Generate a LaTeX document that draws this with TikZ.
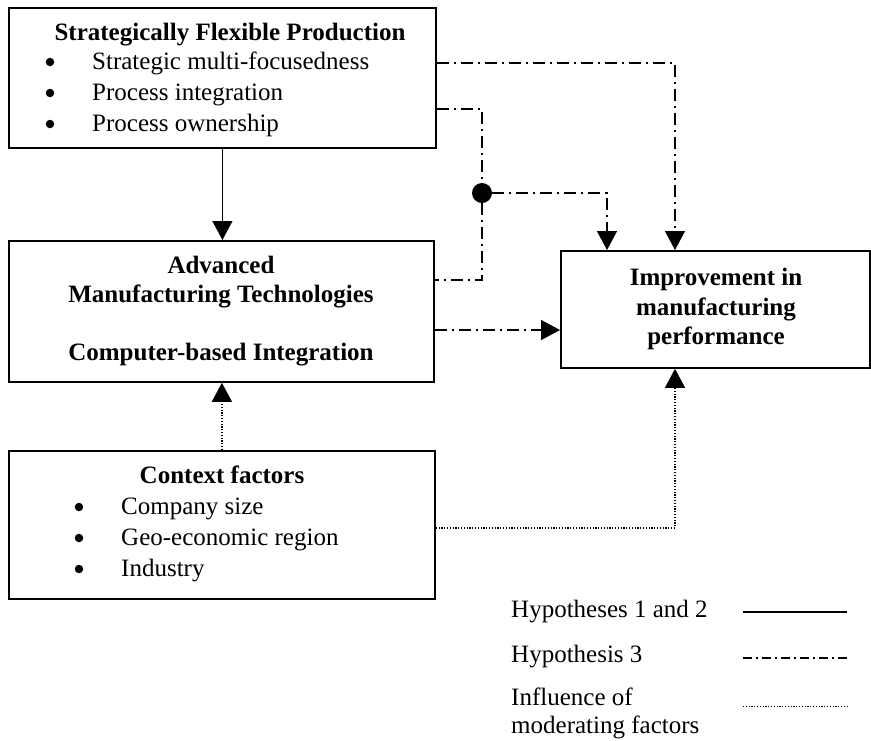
\documentclass[tikz,border=0pt]{standalone}
\usepackage{fontspec}
\setmainfont{Liberation Serif}
\usetikzlibrary{arrows.meta,calc}

\tikzset{
  box/.style={draw, line width=1.8pt, inner sep=0pt, anchor=north west},
  txt/.style={inner sep=0pt, font=\fontsize{25}{31}\selectfont},
  ttl/.style={txt, font=\fontsize{25}{31}\selectfont\bfseries, anchor=base},
  itm/.style={txt, anchor=base west},
  bul/.style={circle, fill, inner sep=0pt, minimum size=8.5pt},
  conn/.style={line width=1.4pt},
  hypa/.style={conn},
  hypb/.style={conn, dash pattern=on 12pt off 5pt on 2pt off 5pt},
  moder/.style={line width=1.3pt, dash pattern=on 1.2pt off 1.6pt},
  tip/.style={-{Triangle[length=19pt,width=20pt]}},
}

\begin{document}
\begin{tikzpicture}[x=1pt, y=-1pt]
\useasboundingbox (0,0) rectangle (871,740);

% boxes
\node[box, minimum width=427pt, minimum height=140pt] (sfp) at (8,7) {};
\node[box, minimum width=425pt, minimum height=141pt] (amt) at (8,240) {};
\node[box, minimum width=426pt, minimum height=148pt] (ctx) at (8,450) {};
\node[box, minimum width=309pt, minimum height=117pt] (imp) at (560,250) {};

% strategically flexible production
\node[ttl] (sfpT) at (230,40) {Strategically Flexible Production};
\node[bul] (sfpB1) at (50,62) {};
\node[bul] (sfpB2) at (50,93) {};
\node[bul] (sfpB3) at (50,124) {};
\node[itm] (sfp1) at (92,69) {Strategic multi-focusedness};
\node[itm] (sfp2) at (92,100) {Process integration};
\node[itm] (sfp3) at (92,131) {Process ownership};

% advanced manufacturing technologies
\node[ttl] (amt1) at (221,273) {Advanced};
\node[ttl] (amt2) at (221,302) {Manufacturing Technologies};
\node[ttl] (amt3) at (221,360) {Computer-based Integration};

% context factors
\node[ttl] (ctxT) at (222,483) {Context factors};
\node[bul] (ctxB1) at (79,507) {};
\node[bul] (ctxB2) at (79,538) {};
\node[bul] (ctxB3) at (79,569) {};
\node[itm] (ctx1) at (121,514) {Company size};
\node[itm] (ctx2) at (121,545) {Geo-economic region};
\node[itm] (ctx3) at (121,576) {Industry};

% improvement in manufacturing performance
\node[ttl] (imp1) at (716,285) {Improvement in};
\node[ttl] (imp2) at (716,315) {manufacturing};
\node[ttl] (imp3) at (716,344) {performance};

% junction dot
\node[circle, fill, inner sep=0pt, minimum size=20pt] (dot) at (482,193) {};

% hypotheses 1 and 2
\draw[hypa, tip] (sfp.south) -- (sfp.south |- amt.north);

% hypothesis 3
\draw[hypb, tip] ([yshift=-56pt]sfp.north east) -| ([xshift=115pt]imp.north west);
\draw[hypb] ([yshift=-102pt]sfp.north east) -| (dot.north);
\draw[hypb] (dot.south) |- ([yshift=-40pt]amt.north east);
\draw[hypb, tip] (dot.east) -| ([xshift=47pt]imp.north west);
\draw[hypb, tip] ([yshift=-90pt]amt.north east) -- ([yshift=-90pt]amt.north east -| imp.west);

% moderating factors
\draw[moder, tip] (ctx.north) -- (ctx.north |- amt.south);
\draw[moder, tip] ([yshift=-78pt]ctx.north east) -| ([xshift=115pt]imp.south west);

% legend
\node[itm] (lg1) at (511,617) {Hypotheses 1 and 2};
\node[itm] (lg2) at (511,662) {Hypothesis 3};
\node[itm] (lg3) at (511,705) {Influence of};
\node[itm] (lg4) at (511,733) {moderating factors};
\coordinate (l1a) at (743,612); \coordinate (l1b) at (847,612);
\coordinate (l2a) at (743,658); \coordinate (l2b) at (847,658);
\coordinate (l3a) at (743,706); \coordinate (l3b) at (847,706);
\draw[hypa] (l1a) -- (l1b);
\draw[hypb, dash pattern=on 9pt off 4pt on 2pt off 4pt] (l2a) -- (l2b);
\draw[moder, line width=1pt] (l3a) -- (l3b);
\end{tikzpicture}
\end{document}
